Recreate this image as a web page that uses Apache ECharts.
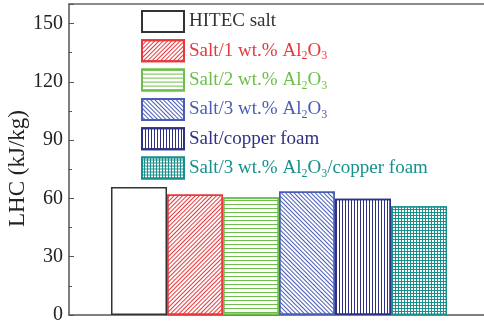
<!DOCTYPE html>
<html>
<head>
<meta charset="utf-8">
<script src="https://cdn.jsdelivr.net/npm/echarts@6/dist/echarts.min.js"></script>
<style>html,body{margin:0;padding:0;background:#fff;}#c{width:484px;height:323px;}</style>
</head>
<body>
<div id="c"></div>
<script>
// Data
const seriesNames = ['HITEC salt', 'Salt/1 wt.% Al2O3', 'Salt/2 wt.% Al2O3', 'Salt/3 wt.% Al2O3', 'Salt/copper foam', 'Salt/3 wt.% Al2O3/copper foam'];
const xPositions = [1, 2, 3, 4, 5, 6];
const lhcValues = [65.8, 62.0, 60.6, 63.6, 59.8, 56.0];
const yTicks = [0, 30, 60, 90, 120, 150];
const yAxisTitle = 'LHC (kJ/kg)';

// Styles
const FONT = 'Liberation Serif';
const colors = ['#333333', '#e8383c', '#6cbf4b', '#4a5db5', '#2f3182', '#17908b'];
const decals = [
  null,
  { symbol: 'rect', symbolSize: 1, dashArrayX: [1, 0], dashArrayY: [1, 2], rotation: -Math.PI / 4, color: colors[1] },
  { symbol: 'rect', symbolSize: 1, dashArrayX: [1, 0], dashArrayY: [1, 3], rotation: 0, color: colors[2] },
  { symbol: 'rect', symbolSize: 1, dashArrayX: [1, 0], dashArrayY: [1, 2], rotation: Math.PI / 4, color: colors[3] },
  { symbol: 'rect', symbolSize: 1, dashArrayX: [1, 2], dashArrayY: [1, 0], rotation: 0, color: colors[4] },
  { symbol: 'rect', symbolSize: 1, dashArrayX: [2, 1], dashArrayY: [2, 1], rotation: 0, color: '#ffffff', backgroundColor: colors[5] }
];

function richName(name) {
  return name.replace(/Al2O3/g, '{a|Al}{s|2}{a|O}{s|3}').replace(/^([^{]+)/, '{a|$1}').replace(/\}([^{}]+)$/, '}{a|$1}');
}

const chart = echarts.init(document.getElementById('c'), null, { renderer: 'canvas' });
const series = seriesNames.map((name, i) => ({
  name: name,
  type: 'bar',
  barWidth: 56,
  barGap: '-100%',
  data: [[xPositions[i], lhcValues[i]]],
  itemStyle: Object.assign({
    color: '#ffffff',
    borderColor: colors[i],
    borderWidth: 1.5
  }, decals[i] ? { decal: decals[i] } : {}),
  emphasis: { disabled: true }
}));

chart.setOption({
  animation: false,
  backgroundColor: '#ffffff',
  grid: { left: 69, top: 4, width: 420, bottom: 8, outerBoundsMode: 'none', containLabel: false, show: false },
  legend: {
    orient: 'vertical',
    left: 141,
    top: 10,
    padding: 0,
    itemWidth: 42,
    itemHeight: 21,
    itemGap: 6.3,
    icon: 'rect',
    selectedMode: false,
    data: seriesNames.map((n, i) => ({ name: n, textStyle: { color: colors[i] } })),
    formatter: richName,
    textStyle: {
      fontFamily: FONT,
      fontSize: 19,
      lineHeight: 23,
      rich: {
        a: { fontFamily: FONT, fontSize: 19, lineHeight: 23 },
        s: { fontFamily: FONT, fontSize: 12, lineHeight: 23, verticalAlign: 'bottom' }
      }
    }
  },
  xAxis: [{
    type: 'value',
    min: -0.25,
    max: 7.25,
    axisLine: { show: true, onZero: false, lineStyle: { color: '#555', width: 1.5 } },
    axisTick: { show: false },
    axisLabel: { show: false },
    splitLine: { show: false }
  }, {
    type: 'value',
    position: 'top',
    min: -0.25,
    max: 7.25,
    axisLine: { show: true, onZero: false, lineStyle: { color: '#666', width: 1.5 } },
    axisTick: { show: false },
    axisLabel: { show: false },
    splitLine: { show: false }
  }],
  yAxis: {
    type: 'value',
    min: 0,
    max: 160,
    interval: 30,
    name: yAxisTitle,
    nameLocation: 'middle',
    nameGap: 40,
    nameMoveOverlap: false,
    nameTextStyle: { fontFamily: FONT, fontSize: 23, color: '#222', padding: [0, 18, 0, 0] },
    axisLine: { show: true, onZero: false, lineStyle: { color: '#555', width: 1.5 } },
    axisTick: { show: true, inside: true, length: 5, lineStyle: { color: '#555', width: 1 } },
    minorTick: { show: true, splitNumber: 2, length: 3, lineStyle: { color: '#555', width: 1 } },
    axisLabel: {
      fontFamily: FONT, fontSize: 20, color: '#222', margin: 6,
      showMaxLabel: false,
      formatter: v => (yTicks.indexOf(v) >= 0 ? String(v) : '')
    },
    splitLine: { show: false }
  },
  series: series
});
</script>
</body>
</html>
